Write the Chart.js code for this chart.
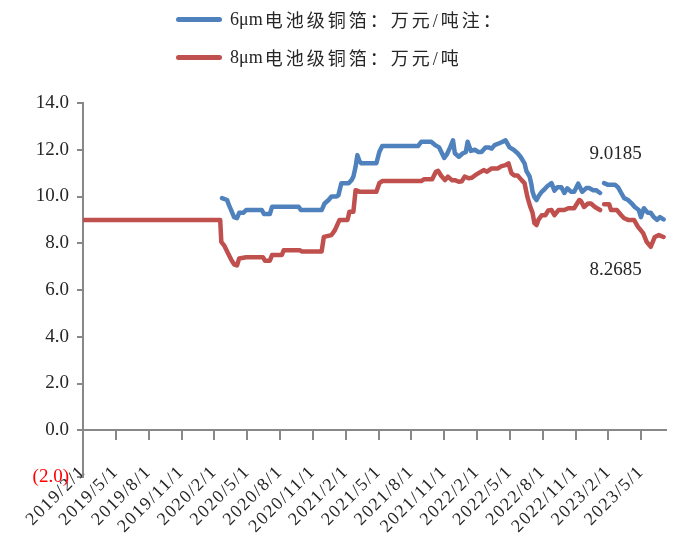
<!DOCTYPE html>
<html>
<head>
<meta charset="utf-8">
<script src="https://cdn.jsdelivr.net/npm/chart.js@4"></script>
<style>
  body { margin: 0; background: #fff; }
  #wrap { position: relative; width: 679px; height: 536px; }
  #legend { position: absolute; left: 176px; top: 0; font-family: "Liberation Serif", "Noto Sans CJK SC", serif; font-size: 18px; color: #262626; }
  #legend .item { display: flex; align-items: center; height: 38px; }
  #legend .swatch { width: 46px; height: 5px; border-radius: 3px; margin-right: 8px; }
  #legend .cjk { letter-spacing: 3px; margin-left: 2px; }
</style>
</head>
<body>
<div id="wrap">
  <canvas id="js-chartjs-foil"></canvas>
  <div id="legend"></div>
</div>
<script>
const xTickLabels = ["2019/2/1", "2019/5/1", "2019/8/1", "2019/11/1", "2020/2/1", "2020/5/1", "2020/8/1", "2020/11/1",
  "2021/2/1", "2021/5/1", "2021/8/1", "2021/11/1", "2022/2/1", "2022/5/1", "2022/8/1", "2022/11/1", "2023/2/1", "2023/5/1"];

// 6μm, 万元/吨
const dates6 = ["2020/2/22", "2020/3/6", "2020/3/11", "2020/3/17", "2020/3/25", "2020/4/3", "2020/4/9", "2020/4/20", "2020/4/28",
  "2020/6/11", "2020/6/17", "2020/7/3", "2020/7/9", "2020/9/22", "2020/9/28", "2020/11/25", "2020/12/3", "2020/12/14",
  "2020/12/22", "2021/1/6", "2021/1/11", "2021/1/19", "2021/2/9", "2021/2/17", "2021/2/22", "2021/2/28", "2021/3/3",
  "2021/3/9", "2021/3/14", "2021/4/25", "2021/5/3", "2021/5/11", "2021/8/19", "2021/8/28", "2021/9/25", "2021/10/6",
  "2021/10/17", "2021/10/31", "2021/11/8", "2021/11/17", "2021/11/25", "2021/11/30", "2021/12/11", "2021/12/22",
  "2021/12/30", "2022/1/5", "2022/1/14", "2022/1/25", "2022/2/5", "2022/2/13", "2022/2/24", "2022/3/3", "2022/3/11",
  "2022/3/19", "2022/4/5", "2022/4/19", "2022/4/30", "2022/5/11", "2022/5/22", "2022/5/30", "2022/6/11", "2022/6/16",
  "2022/6/25", "2022/6/30", "2022/7/3", "2022/7/8", "2022/7/14", "2022/7/19", "2022/7/28", "2022/8/5", "2022/8/14",
  "2022/8/25", "2022/9/3", "2022/9/11", "2022/9/22", "2022/9/30", "2022/10/8", "2022/10/19", "2022/10/27", "2022/11/8",
  "2022/11/19", "2022/11/30", "2022/12/8", "2022/12/19", "2022/12/27", "2023/1/8", "2023/1/13", "2023/1/19", "2023/1/30",
  "2023/2/19", "2023/2/27", "2023/3/6", "2023/3/14", "2023/3/25", "2023/4/5", "2023/4/13", "2023/4/24", "2023/4/30",
  "2023/5/8", "2023/5/19", "2023/5/27", "2023/6/5", "2023/6/14", "2023/6/22", "2023/7/2"];
const price6 = [9.93, 9.85, 9.63, 9.42, 9.12, 9.07, 9.3, 9.3, 9.42,
  9.42, 9.25, 9.25, 9.56, 9.56, 9.42, 9.42, 9.7, 9.85,
  10.0, 10.0, 10.06, 10.57, 10.57, 10.7, 10.85, 11.27, 11.77,
  11.5, 11.42, 11.42, 11.9, 12.16, 12.16, 12.34, 12.34, 12.2,
  12.1, 11.65, 11.8, 12.1, 12.4, 11.85, 11.7, 11.85,
  11.9, 12.34, 11.95, 12.0, 11.9, 11.9, 12.1, 12.1, 12.05,
  12.2, 12.3, 12.4, 12.1, 12.0, 11.85, 11.7, 11.42, 11.1,
  10.85, 10.5, 10.2, 9.97, 9.85, 10.0, 10.2, 10.3, 10.45,
  10.57, 10.25, 10.4, 10.4, 10.15, 10.35, 10.2, 10.2, 10.55,
  10.2, 10.36, 10.36, 10.27, 10.27, 10.15, null, 10.57, 10.5,
  10.5, 10.4, 10.15, 9.93, 9.85, 9.7, 9.55, 9.42, 9.12,
  9.5, 9.3, 9.3, 9.12, 9.0, 9.12, 9.0185];

// 8μm, 万元/吨
const dates8 = ["2019/2/1", "2020/2/17", "2020/2/20", "2020/2/28", "2020/3/9", "2020/3/17", "2020/3/25", "2020/4/3", "2020/4/9",
  "2020/4/28", "2020/6/14", "2020/6/20", "2020/7/3", "2020/7/9", "2020/8/6", "2020/8/11", "2020/9/25", "2020/10/1",
  "2020/11/25", "2020/12/1", "2020/12/22", "2021/1/1", "2021/1/14", "2021/2/6", "2021/2/11", "2021/2/22", "2021/2/28",
  "2021/3/3", "2021/3/9", "2021/4/25", "2021/5/3", "2021/5/11", "2021/8/28", "2021/9/6", "2021/9/28", "2021/10/8",
  "2021/10/14", "2021/10/22", "2021/11/3", "2021/11/11", "2021/11/22", "2021/11/30", "2021/12/11", "2021/12/19",
  "2021/12/27", "2022/1/8", "2022/1/16", "2022/1/25", "2022/2/5", "2022/2/19", "2022/2/28", "2022/3/11", "2022/3/27",
  "2022/4/8", "2022/4/19", "2022/4/27", "2022/5/5", "2022/5/13", "2022/5/22", "2022/6/3", "2022/6/11", "2022/6/19",
  "2022/6/27", "2022/7/3", "2022/7/8", "2022/7/14", "2022/7/19", "2022/7/28", "2022/8/8", "2022/8/16", "2022/8/25",
  "2022/9/3", "2022/9/14", "2022/9/30", "2022/10/11", "2022/10/27", "2022/11/11", "2022/11/16", "2022/11/24",
  "2022/12/5", "2022/12/13", "2022/12/24", "2023/1/8", "2023/1/13", "2023/1/19", "2023/2/3", "2023/2/8", "2023/2/24",
  "2023/3/6", "2023/3/14", "2023/3/25", "2023/4/11", "2023/4/22", "2023/5/6", "2023/5/16", "2023/5/27", "2023/6/8",
  "2023/6/19", "2023/7/2"];
const price8 = [9.0, 9.0, 8.06, 7.9, 7.55, 7.3, 7.1, 7.05, 7.35,
  7.4, 7.4, 7.25, 7.25, 7.5, 7.5, 7.7, 7.7, 7.65,
  7.65, 8.27, 8.35, 8.55, 9.0, 9.0, 9.35, 9.35, 10.27,
  10.25, 10.2, 10.2, 10.57, 10.66, 10.66, 10.74, 10.74, 11.06,
  11.1, 10.9, 10.7, 10.85, 10.7, 10.7, 10.63, 10.65,
  10.85, 10.78, 10.8, 10.9, 11.0, 11.13, 11.06, 11.2, 11.2,
  11.3, 11.34, 11.42, 11.0, 10.9, 10.9, 10.7, 10.57, 9.97,
  9.55, 9.3, 8.86, 8.78, 9.0, 9.2, 9.2, 9.4, 9.42,
  9.2, 9.42, 9.42, 9.5, 9.5, 9.85, 9.8, 9.55,
  9.7, 9.7, 9.55, 9.42, null, 9.67, 9.67, 9.42, 9.42,
  9.2, 9.07, 9.0, 9.0, 8.7, 8.43, 8.05, 7.85, 8.27,
  8.35, 8.2685];

const seriesNames = ["6μm电池级铜箔：万元/吨注：", "8μm电池级铜箔：万元/吨"];
const seriesColors = ["#4F81BD", "#C0504D"];

// months since 2019/2/1
const monthIndex = (s) => {
  const [y, m, d] = s.split("/").map(Number);
  return (y - 2019) * 12 + (m - 2) + (d - 1) / 30;
};
const toPoints = (dates, values) => dates.map((d, i) => ({ x: monthIndex(d), y: values[i] }));

const textColor = "#262626";
const axisColor = "#888888";
const serif = "'Liberation Serif', 'Times New Roman', serif";

// date labels on the x axis are letter-spaced; reset before the lines and other text
const spacing = {
  id: "spacing",
  beforeDraw(chart) { chart.ctx.letterSpacing = "1.5px"; },
  beforeDatasetsDraw(chart) { chart.ctx.letterSpacing = "0px"; }
};

// last-value labels next to the line ends
const labelShift = [[-48, -65], [-48, 33]];
const endLabels = {
  id: "endLabels",
  afterDatasetsDraw(chart) {
    const ctx = chart.ctx;
    ctx.save();
    ctx.font = "19px " + serif;
    ctx.fillStyle = textColor;
    ctx.textAlign = "center";
    ctx.textBaseline = "middle";
    chart.data.datasets.forEach((ds, i) => {
      const pts = chart.getDatasetMeta(i).data;
      const last = pts[pts.length - 1];
      ctx.fillText(ds.data[ds.data.length - 1].y.toFixed(4), last.x + labelShift[i][0], last.y + labelShift[i][1]);
    });
    ctx.restore();
  }
};

const chart = new Chart(document.getElementById("js-chartjs-foil"), {
  type: "line",
  data: {
    datasets: [
      { label: seriesNames[0], data: toPoints(dates6, price6), borderColor: seriesColors[0], backgroundColor: seriesColors[0] },
      { label: seriesNames[1], data: toPoints(dates8, price8), borderColor: seriesColors[1], backgroundColor: seriesColors[1] }
    ]
  },
  options: {
    responsive: true,
    maintainAspectRatio: false,
    animation: false,
    layout: { padding: { top: 103, bottom: 59, left: 0, right: 10 } },
    elements: {
      point: { radius: 0 },
      line: { borderWidth: 4.5, tension: 0, borderCapStyle: "round", borderJoinStyle: "round" }
    },
    plugins: { legend: { display: false }, tooltip: { enabled: false } },
    scales: {
      x: {
        type: "linear",
        position: { y: 0 },
        min: 0,
        max: 53.25,
        grid: { drawOnChartArea: false, color: axisColor, lineWidth: 2, tickLength: 9 },
        border: { color: axisColor, width: 2 },
        ticks: {
          stepSize: 3,
          includeBounds: false,
          autoSkip: false,
          minRotation: 45,
          maxRotation: 45,
          padding: 22,
          color: textColor,
          font: { family: serif, size: 18 },
          callback: (v) => xTickLabels[Math.round(v / 3)]
        }
      },
      y: {
        min: -2,
        max: 14,
        afterFit: (s) => { s.width = 83; },
        grid: { drawOnChartArea: false, color: axisColor, lineWidth: 2, tickLength: 6 },
        border: { color: axisColor, width: 2 },
        ticks: {
          z: 1,
          stepSize: 2,
          padding: 8,
          font: { family: serif, size: 19 },
          color: (c) => (c.tick.value < 0 ? "#FF0000" : textColor),
          callback: (v) => (v < 0 ? "(" + Math.abs(v).toFixed(1) + ")" : v.toFixed(1))
        }
      }
    }
  },
  plugins: [spacing, endLabels]
});

// legend stacked in two rows, as in the source; only the Chinese part is spaced out
const legendBox = document.getElementById("legend");
chart.data.datasets.forEach((ds) => {
  const row = document.createElement("div");
  row.className = "item";
  const sw = document.createElement("span");
  sw.className = "swatch";
  sw.style.background = ds.borderColor;
  const head = ds.label.match(/^[0-9μa-z]+/)[0];
  const lat = document.createElement("span");
  lat.textContent = head;
  const cjk = document.createElement("span");
  cjk.className = "cjk";
  cjk.textContent = ds.label.slice(head.length);
  row.appendChild(sw);
  row.appendChild(lat);
  row.appendChild(cjk);
  legendBox.appendChild(row);
});
</script>
</body>
</html>
